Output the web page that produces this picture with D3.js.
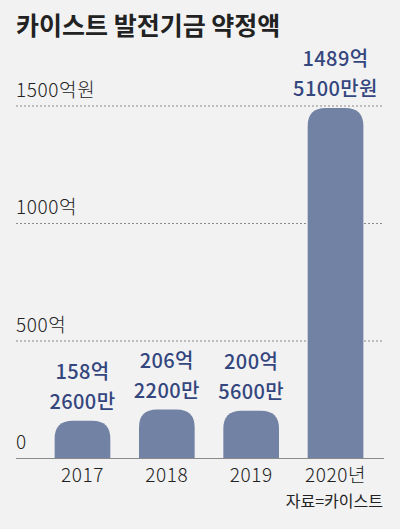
<!DOCTYPE html>
<html>
<head>
<meta charset="utf-8">
<script src="https://cdn.jsdelivr.net/npm/d3@7"></script>
<style>
  html, body { margin: 0; padding: 0; background: #f2f2f2; }
  svg { display: block; font-family: "Noto Sans CJK KR", "Noto Sans", sans-serif; }
</style>
</head>
<body>
<svg id="chart" width="400" height="529"></svg>
<script>
// 카이스트 발전기금 약정액 (단위: 억원)
const years = ["2017", "2018", "2019", "2020"];
const yearLabels = ["2017", "2018", "2019", "2020년"];
const amounts = [158.26, 206.22, 200.56, 1489.51];
const valueLines = [["158억", "2600만"], ["206억", "2200만"], ["200억", "5600만"], ["1489억", "5100만원"]];
const tickValues = [0, 500, 1000, 1500];
const tickLabels = ["0", "500억", "1000억", "1500억원"];

const svg = d3.select("#chart");
const W = 400, H = 529;
svg.append("rect").attr("width", W).attr("height", H).attr("fill", "#f2f2f2");

const left = 16, right = 384;
const y = d3.scaleLinear().domain([0, 1500]).range([458, 105.5]);
const x = d3.scaleBand().domain(years).range([15, 403]).paddingInner(0.34).paddingOuter(0.47);

// title
svg.append("text")
  .attr("x", 16).attr("y", 35)
  .attr("font-size", 25).attr("font-weight", 700).attr("fill", "#222")
  .text("카이스트 발전기금 약정액");

// gridlines
svg.selectAll("line.grid")
  .data(tickValues.filter(v => v > 0))
  .join("line")
  .attr("class", "grid")
  .attr("x1", left).attr("x2", right)
  .attr("y1", d => y(d) + 0.5).attr("y2", d => y(d) + 0.5)
  .attr("stroke", "#8a8a8a").attr("stroke-width", 1)
  .attr("stroke-dasharray", "2,2");

// tick labels
svg.selectAll("text.tick")
  .data(tickValues)
  .join("text")
  .attr("class", "tick")
  .attr("x", left)
  .attr("y", d => y(d) - 9)
  .attr("font-size", 19).attr("font-weight", 300).attr("fill", "#222")
  .attr("letter-spacing", 0.6)
  .text((d, i) => tickLabels[i]);

// bars with rounded tops
const r = 18;
function barPath(x0, w, yTop, yBase) {
  const rr = Math.min(r, w / 2, (yBase - yTop));
  return `M${x0},${yBase} L${x0},${yTop + rr} Q${x0},${yTop} ${x0 + rr},${yTop} ` +
         `L${x0 + w - rr},${yTop} Q${x0 + w},${yTop} ${x0 + w},${yTop + rr} L${x0 + w},${yBase} Z`;
}
svg.selectAll("path.bar")
  .data(amounts)
  .join("path")
  .attr("class", "bar")
  .attr("fill", "#7282a5")
  .attr("d", (d, i) => barPath(x(years[i]), x.bandwidth(), y(d), y(0)));

// baseline
svg.append("line")
  .attr("x1", left).attr("x2", right)
  .attr("y1", y(0) + 0.5).attr("y2", y(0) + 0.5)
  .attr("stroke", "#8a8a8a").attr("stroke-width", 1);

// value labels: two lines above each bar
const lineGap = 29.5;
svg.selectAll("g.val")
  .data(amounts)
  .join("g")
  .attr("class", "val")
  .each(function(d, i) {
    const g = d3.select(this);
    const cx = x(years[i]) + x.bandwidth() / 2;
    const base = y(d) - 12;
    valueLines[i].forEach((s, k) => {
      g.append("text")
        .attr("x", cx)
        .attr("y", base - (1 - k) * lineGap)
        .attr("text-anchor", "middle")
        .attr("font-size", 20).attr("font-weight", 500).attr("fill", "#34467e")
        .attr("letter-spacing", 0.4)
        .text(s);
    });
  });

// x labels
svg.selectAll("text.xl")
  .data(years)
  .join("text")
  .attr("class", "xl")
  .attr("x", d => x(d) + x.bandwidth() / 2)
  .attr("y", 482)
  .attr("text-anchor", "middle")
  .attr("font-size", 19).attr("font-weight", 300).attr("fill", "#222")
  .attr("letter-spacing", 0.6)
  .text((d, i) => yearLabels[i]);

// source
svg.append("text")
  .attr("x", 383).attr("y", 507)
  .attr("text-anchor", "end")
  .attr("font-size", 16).attr("font-weight", 400).attr("fill", "#222")
  .text("자료=카이스트");
</script>
</body>
</html>
